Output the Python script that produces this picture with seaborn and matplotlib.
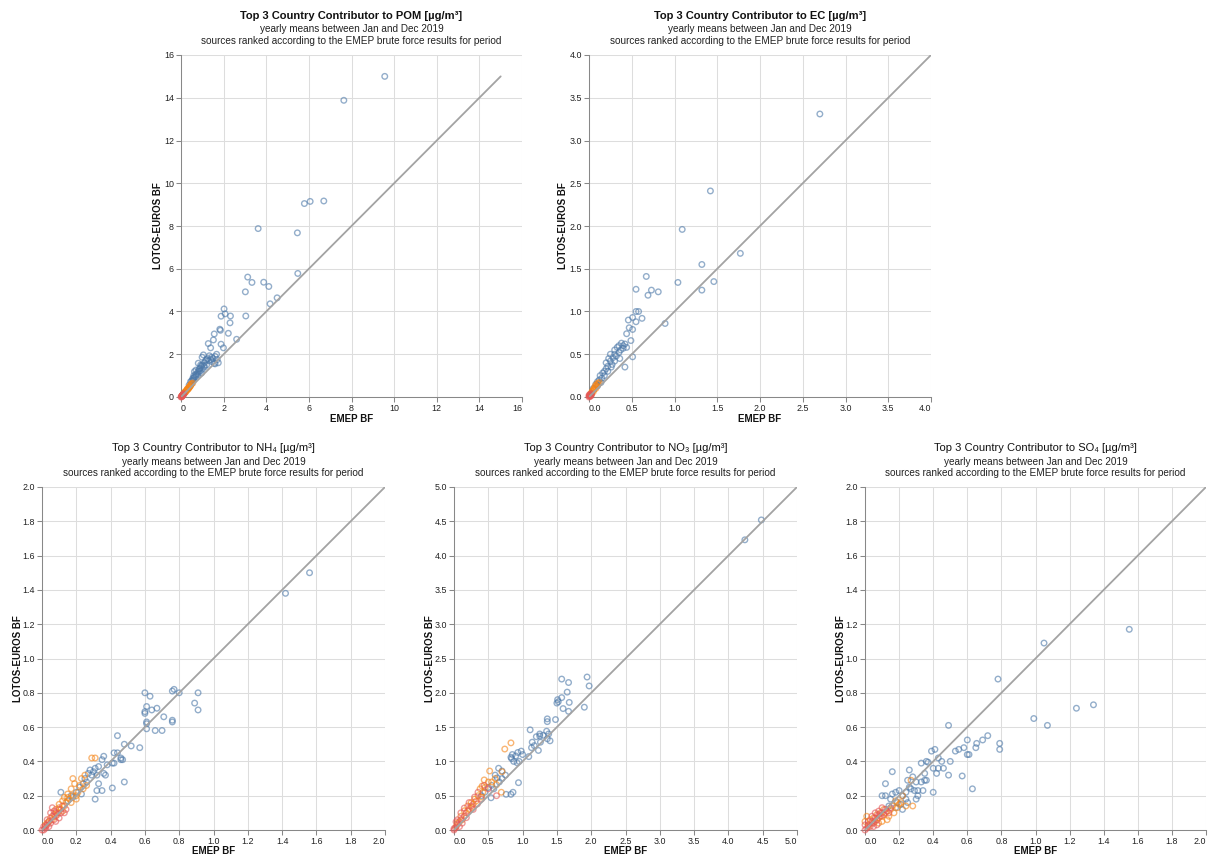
import numpy as np
import pandas as pd
import matplotlib
matplotlib.use("Agg")
import matplotlib.pyplot as plt
import seaborn as sns

# ---------------- data ----------------
SUB1 = "yearly means between Jan and Dec 2019"
SUB2 = "sources ranked according to the EMEP brute force results for period"
X_LABEL = "EMEP BF"
Y_LABEL = "LOTOS-EUROS BF"
RANKS = ["1", "2", "3"]
COLORS = ["#4c78a8", "#f58518", "#e45756"]

# POM
pom_title = "Top 3 Country Contributor to POM [µg/m³]"
pom_ticks = [0, 2, 4, 6, 8, 10, 12, 14, 16]
pom_line = [0, 15]
pom_b_x = [9.56, 7.64, 5.79, 6.06, 6.70, 3.62, 5.46, 5.48, 3.13, 3.33, 3.02, 3.88, 4.12, 4.51, 4.18,
           2.02, 1.88, 2.07, 2.32, 3.04, 2.30, 1.82, 1.85, 1.56, 2.22, 2.61, 1.52, 1.28, 1.88, 1.99,
           1.39, 1.05, 1.67, 0.99, 1.33, 1.44, 1.56, 0.81, 0.92, 1.08, 0.70, 0.63, 0.85, 0.96, 0.55,
           0.60, 0.45, 0.38, 0.50, 0.55, 0.60, 0.65, 0.70, 0.75, 0.80, 0.85, 0.90, 0.95, 1.00, 1.10,
           1.15, 1.20, 1.25, 1.30, 1.40, 1.50, 1.60, 1.70, 1.75, 1.60, 1.45, 1.20, 1.00, 0.80, 0.70,
           1.10, 0.90, 0.60]
pom_b_y = [15.0, 13.88, 9.05, 9.15, 9.17, 7.88, 7.68, 5.78, 5.61, 5.36, 4.92, 5.37, 5.17, 4.64, 4.36,
           4.12, 3.78, 3.89, 3.79, 3.79, 3.47, 3.17, 3.12, 2.95, 2.98, 2.70, 2.67, 2.50, 2.47, 2.30,
           2.30, 1.97, 2.00, 1.86, 1.93, 1.86, 1.58, 1.58, 1.50, 1.45, 1.26, 1.19, 1.20, 1.12, 0.87,
           1.00, 0.72, 0.56, 0.75, 0.80, 0.90, 0.95, 1.05, 1.10, 1.20, 1.30, 1.35, 1.45, 1.50, 1.60,
           1.70, 1.75, 1.80, 1.70, 1.75, 1.80, 1.90, 1.75, 1.60, 1.55, 1.65, 1.50, 1.30, 1.05, 0.95,
           1.40, 1.20, 0.80]
pom_o_x = [0.05, 0.08, 0.10, 0.12, 0.15, 0.18, 0.20, 0.22, 0.25, 0.28, 0.30, 0.32, 0.35, 0.38, 0.40,
           0.42, 0.45, 0.48, 0.50, 0.55, 0.12, 0.20, 0.30, 0.36, 0.44]
pom_o_y = [0.06, 0.10, 0.12, 0.15, 0.17, 0.22, 0.25, 0.24, 0.30, 0.33, 0.36, 0.35, 0.42, 0.45, 0.50,
           0.48, 0.55, 0.60, 0.62, 0.65, 0.16, 0.22, 0.38, 0.40, 0.52]
pom_r_x = [0.00, 0.02, 0.04, 0.05, 0.07, 0.08, 0.10, 0.12, 0.14, 0.03, 0.06, 0.09]
pom_r_y = [0.00, 0.02, 0.05, 0.04, 0.08, 0.07, 0.10, 0.13, 0.15, 0.01, 0.06, 0.11]

# EC
ec_title = "Top 3 Country Contributor to EC [µg/m³]"
ec_ticks = [0, 0.5, 1.0, 1.5, 2.0, 2.5, 3.0, 3.5, 4.0]
ec_line = [0, 4.0]
ec_b_x = [2.70, 1.42, 1.09, 1.77, 1.32, 1.04, 1.46, 1.32, 0.67, 0.55, 0.73, 0.81, 0.69, 0.89, 0.55,
          0.58, 0.51, 0.62, 0.46, 0.55, 0.47, 0.51, 0.44, 0.49, 0.51, 0.42,
          0.05, 0.08, 0.10, 0.12, 0.13, 0.15, 0.16, 0.18, 0.20, 0.20, 0.22, 0.23, 0.25, 0.25, 0.27,
          0.28, 0.30, 0.30, 0.32, 0.33, 0.35, 0.35, 0.37, 0.38, 0.40, 0.40, 0.42, 0.44, 0.22, 0.18,
          0.26, 0.30, 0.10, 0.14, 0.36]
ec_b_y = [3.31, 2.41, 1.96, 1.68, 1.55, 1.34, 1.35, 1.25, 1.41, 1.26, 1.25, 1.23, 1.19, 0.86, 1.00,
          1.00, 0.93, 0.92, 0.90, 0.88, 0.81, 0.79, 0.74, 0.66, 0.47, 0.35,
          0.10, 0.15, 0.18, 0.20, 0.25, 0.22, 0.28, 0.30, 0.33, 0.40, 0.36, 0.45, 0.42, 0.50, 0.38,
          0.46, 0.50, 0.55, 0.48, 0.58, 0.52, 0.60, 0.55, 0.63, 0.60, 0.57, 0.62, 0.58, 0.30, 0.25,
          0.35, 0.42, 0.13, 0.17, 0.45]
ec_o_x = [0.01, 0.02, 0.03, 0.04, 0.05, 0.06, 0.07, 0.08, 0.09, 0.10, 0.05, 0.03, 0.06, 0.08, 0.11, 0.12]
ec_o_y = [0.02, 0.04, 0.05, 0.07, 0.08, 0.10, 0.12, 0.14, 0.13, 0.16, 0.06, 0.03, 0.09, 0.10, 0.15, 0.17]
ec_r_x = [0.00, 0.005, 0.01, 0.015, 0.02, 0.01, 0.025, 0.03, 0.02, 0.00]
ec_r_y = [0.00, 0.01, 0.01, 0.02, 0.02, 0.03, 0.03, 0.04, 0.01, 0.02]

# NH4
nh4_title = "Top 3 Country Contributor to NH₄ [µg/m³]"
nh4_ticks = [0, 0.2, 0.4, 0.6, 0.8, 1.0, 1.2, 1.4, 1.6, 1.8, 2.0]
nh4_line = [0, 2.0]
nh4_b_x = [1.42, 1.56, 0.60, 0.63, 0.77, 0.76, 0.80, 0.91, 0.89, 0.91, 0.61, 0.60, 0.60, 0.64, 0.67,
           0.71, 0.61, 0.61, 0.76, 0.76, 0.61, 0.66, 0.70, 0.57, 0.52, 0.48, 0.44, 0.42, 0.44, 0.46,
           0.46, 0.47, 0.41, 0.42, 0.36, 0.35, 0.37, 0.36, 0.32, 0.48, 0.41, 0.35, 0.32, 0.33, 0.31,
           0.30, 0.29, 0.27, 0.11, 0.25, 0.28, 0.31, 0.22, 0.20, 0.18, 0.15, 0.23, 0.26, 0.33, 0.38,
           0.24, 0.17]
nh4_b_y = [1.38, 1.50, 0.80, 0.78, 0.82, 0.81, 0.80, 0.80, 0.74, 0.70, 0.72, 0.69, 0.68, 0.70, 0.71,
           0.66, 0.63, 0.62, 0.64, 0.63, 0.59, 0.58, 0.58, 0.48, 0.49, 0.50, 0.55, 0.45, 0.45, 0.42,
           0.41, 0.41, 0.39, 0.39, 0.43, 0.41, 0.32, 0.33, 0.32, 0.28, 0.245, 0.23, 0.23, 0.27, 0.18,
           0.34, 0.32, 0.33, 0.22, 0.30, 0.35, 0.36, 0.25, 0.22, 0.19, 0.17, 0.21, 0.28, 0.37, 0.38,
           0.27, 0.20]
nh4_o_x = [0.29, 0.31, 0.18, 0.19, 0.23, 0.17, 0.15, 0.13, 0.12, 0.10, 0.08, 0.07, 0.05, 0.04, 0.03,
           0.02, 0.14, 0.16, 0.20, 0.21, 0.11, 0.09, 0.06, 0.13, 0.18, 0.22, 0.25, 0.10, 0.15, 0.12,
           0.17, 0.20, 0.08, 0.24, 0.26]
nh4_o_y = [0.42, 0.42, 0.30, 0.27, 0.30, 0.24, 0.21, 0.19, 0.17, 0.15, 0.12, 0.09, 0.07, 0.05, 0.04,
           0.03, 0.16, 0.18, 0.20, 0.22, 0.12, 0.10, 0.06, 0.14, 0.20, 0.26, 0.32, 0.13, 0.19, 0.11,
           0.16, 0.18, 0.08, 0.24, 0.26]
nh4_r_x = [0.00, 0.01, 0.02, 0.03, 0.04, 0.05, 0.06, 0.07, 0.08, 0.09, 0.10, 0.11, 0.12, 0.14, 0.05,
           0.06, 0.03, 0.02, 0.04, 0.08, 0.10, 0.13, 0.07, 0.01]
nh4_r_y = [0.00, 0.02, 0.02, 0.03, 0.05, 0.04, 0.08, 0.06, 0.10, 0.09, 0.12, 0.10, 0.14, 0.12, 0.10,
           0.13, 0.06, 0.01, 0.02, 0.05, 0.07, 0.10, 0.11, 0.00]

# NO3
no3_title = "Top 3 Country Contributor to NO₃ [µg/m³]"
no3_ticks = [0, 0.5, 1.0, 1.5, 2.0, 2.5, 3.0, 3.5, 4.0, 4.5, 5.0]
no3_line = [0, 5.0]
no3_b_x = [4.24, 4.48, 1.57, 1.67, 1.94, 1.97, 1.65, 1.57, 1.51, 1.52, 1.50, 1.59, 1.67, 1.68, 1.90,
           1.36, 1.36, 1.48, 1.11, 1.25, 1.30, 1.35, 1.38, 1.36, 1.40, 1.25, 1.20, 1.14, 1.26, 1.23,
           1.13, 1.17, 1.09, 0.85, 0.83, 0.90, 0.93, 0.95, 0.87, 0.92, 0.84, 0.94, 0.76, 0.83, 0.86,
           0.54, 0.65, 0.70, 0.60, 0.63, 0.50, 0.55, 0.45, 0.70, 0.75, 1.00, 0.98, 0.40, 0.58, 0.66]
no3_b_y = [4.23, 4.52, 2.20, 2.15, 2.23, 2.10, 2.01, 1.93, 1.90, 1.87, 1.85, 1.77, 1.73, 1.86, 1.79,
           1.62, 1.58, 1.61, 1.46, 1.40, 1.38, 1.44, 1.40, 1.33, 1.30, 1.37, 1.36, 1.28, 1.28, 1.16,
           1.20, 1.23, 1.07, 1.10, 1.06, 1.08, 1.13, 1.00, 1.00, 0.98, 1.04, 0.69, 0.52, 0.52, 0.55,
           0.47, 0.90, 0.86, 0.80, 0.76, 0.62, 0.65, 0.55, 0.75, 0.80, 1.10, 1.15, 0.50, 0.60, 0.70]
no3_o_x = [0.83, 0.74, 0.52, 0.44, 0.41, 0.69, 0.50, 0.35, 0.30, 0.25, 0.20, 0.15, 0.10, 0.05, 0.38,
           0.45, 0.28, 0.22, 0.18, 0.12, 0.40, 0.32, 0.60, 0.55, 0.08, 0.03, 0.26, 0.42, 0.70, 0.62]
no3_o_y = [1.27, 1.18, 0.86, 0.73, 0.64, 0.55, 0.70, 0.50, 0.45, 0.40, 0.35, 0.28, 0.20, 0.10, 0.60,
           0.62, 0.38, 0.30, 0.25, 0.15, 0.48, 0.42, 0.75, 0.70, 0.12, 0.05, 0.33, 0.55, 0.85, 0.66]
no3_r_x = [0.62, 0.44, 0.35, 0.30, 0.25, 0.20, 0.15, 0.10, 0.05, 0.02, 0.00, 0.08, 0.12, 0.18, 0.28,
           0.40, 0.05, 0.10, 0.15, 0.22, 0.03, 0.00, 0.34, 0.50]
no3_r_y = [0.50, 0.65, 0.55, 0.48, 0.35, 0.28, 0.20, 0.15, 0.08, 0.03, 0.00, 0.05, 0.10, 0.18, 0.30,
           0.45, 0.15, 0.25, 0.32, 0.40, 0.12, 0.02, 0.38, 0.60]

# SO4
so4_title = "Top 3 Country Contributor to SO₄ [µg/m³]"
so4_ticks = [0, 0.2, 0.4, 0.6, 0.8, 1.0, 1.2, 1.4, 1.6, 1.8, 2.0]
so4_line = [0, 2.0]
so4_b_x = [1.05, 1.55, 0.78, 0.99, 1.07, 1.24, 1.34, 0.49, 0.72, 0.69, 0.655, 0.60, 0.79, 0.79, 0.65,
           0.60, 0.61, 0.53, 0.55, 0.58, 0.39, 0.41, 0.43, 0.50, 0.37, 0.36, 0.33, 0.40, 0.43, 0.46,
           0.35, 0.49, 0.57, 0.63, 0.40, 0.26, 0.16, 0.12, 0.30, 0.31, 0.29, 0.27, 0.22, 0.20, 0.18,
           0.16, 0.15, 0.19, 0.25, 0.24, 0.21, 0.10, 0.12, 0.22, 0.30, 0.35, 0.42, 0.26, 0.24, 0.14,
           0.18, 0.28, 0.45, 0.33, 0.36, 0.31, 0.34, 0.25]
so4_b_y = [1.09, 1.17, 0.88, 0.65, 0.61, 0.71, 0.73, 0.61, 0.55, 0.525, 0.505, 0.525, 0.505, 0.47, 0.48,
           0.44, 0.44, 0.46, 0.47, 0.48, 0.46, 0.47, 0.42, 0.40, 0.395, 0.40, 0.39, 0.36, 0.36, 0.36,
           0.33, 0.32, 0.315, 0.24, 0.22, 0.35, 0.34, 0.27, 0.18, 0.20, 0.23, 0.24, 0.20, 0.23, 0.22,
           0.21, 0.18, 0.16, 0.16, 0.18, 0.15, 0.20, 0.20, 0.12, 0.28, 0.29, 0.33, 0.25, 0.22, 0.14,
           0.13, 0.31, 0.40, 0.28, 0.29, 0.23, 0.23, 0.29]
so4_o_x = [0.27, 0.28, 0.21, 0.20, 0.19, 0.15, 0.12, 0.10, 0.08, 0.06, 0.04, 0.02, 0.17, 0.14, 0.11,
           0.09, 0.07, 0.05, 0.13, 0.16, 0.18, 0.22, 0.03, 0.10, 0.24, 0.08, 0.00, 0.01]
so4_o_y = [0.29, 0.14, 0.16, 0.15, 0.13, 0.12, 0.10, 0.08, 0.07, 0.05, 0.04, 0.02, 0.10, 0.08, 0.12,
           0.10, 0.09, 0.07, 0.06, 0.14, 0.17, 0.20, 0.06, 0.05, 0.14, 0.04, 0.05, 0.08]
so4_r_x = [0.00, 0.01, 0.02, 0.03, 0.04, 0.05, 0.06, 0.07, 0.08, 0.09, 0.10, 0.11, 0.12, 0.13, 0.14,
           0.02, 0.04, 0.06, 0.08, 0.10, 0.05, 0.00, 0.15, 0.07]
so4_r_y = [0.00, 0.01, 0.03, 0.02, 0.05, 0.04, 0.07, 0.06, 0.09, 0.08, 0.10, 0.09, 0.12, 0.11, 0.10,
           0.05, 0.08, 0.10, 0.11, 0.13, 0.02, 0.03, 0.13, 0.03]

# ---------------- styling ----------------
sns.set_theme(style="white")
plt.rcParams['font.family'] = ['Liberation Sans', 'DejaVu Sans']

W, H = 1208, 856
fig = plt.figure(figsize=(W / 100, H / 100), dpi=100)
fig.patch.set_facecolor("white")


def make_df(bx, by, ox, oy, rx, ry):
    return pd.DataFrame({
        "emep": list(bx) + list(ox) + list(rx),
        "lotos": list(by) + list(oy) + list(ry),
        "rank": [RANKS[0]] * len(bx) + [RANKS[1]] * len(ox) + [RANKS[2]] * len(rx),
    })


def fmt(v, decimals):
    return f"{v:.{decimals}f}" if decimals else f"{int(round(v))}"


def panel(box, df, ticks, line, title, bold, decimals, ylab_off, xlab_off):
    left, top, right, bottom = box
    ax = fig.add_axes([left / W, 1 - bottom / H, (right - left) / W, (bottom - top) / H])
    ax.set_facecolor("white")
    sns.scatterplot(data=df, x="emep", y="lotos", hue="rank", hue_order=RANKS,
                    palette=COLORS, s=16, linewidth=1.0, alpha=0.6, legend=False,
                    ax=ax, clip_on=False, zorder=3)
    coll = ax.collections[-1]
    fcs = coll.get_facecolors()
    coll.set_edgecolors(fcs)
    coll.set_facecolors("none")
    sns.lineplot(x=line, y=line, ax=ax, color="#a3a3a3", linewidth=1.3, zorder=4)
    ax.set_xlim(ticks[0], ticks[-1])
    ax.set_ylim(ticks[0], ticks[-1])
    ax.set_xticks(ticks)
    ax.set_yticks(ticks)
    ax.set_xticklabels([fmt(t, decimals) for t in ticks])
    ax.set_yticklabels([fmt(t, decimals) for t in ticks])
    xl = ax.get_xticklabels()
    xl[0].set_ha("left")
    xl[-1].set_ha("right")
    ax.grid(True, color="#dddddd", linewidth=0.75)
    ax.set_axisbelow(True)
    for s in ["top", "right"]:
        ax.spines[s].set_visible(False)
    for s in ["left", "bottom"]:
        ax.spines[s].set_color("#888888")
        ax.spines[s].set_linewidth(0.75)
    ax.tick_params(axis="both", which="both", bottom=True, left=True, direction="out",
                   length=3.6, width=0.75, color="#888888", labelsize=6.4, pad=1.5,
                   labelcolor="#222222")
    hpx = bottom - top
    wpx = right - left
    ax.set_xlabel(X_LABEL, fontsize=7.0, fontweight="bold", color="#111111", va="center")
    ax.set_ylabel(Y_LABEL, fontsize=7.0, fontweight="bold", color="#111111", va="center")
    ax.xaxis.set_label_coords(0.5, -xlab_off / hpx)
    ax.yaxis.set_label_coords(-ylab_off / wpx, 0.5)
    cx = (left + right) / 2 / W
    fig.text(cx, 1 - (top - 39) / H, title, ha="center", va="center", fontsize=8.0,
             fontweight="bold" if bold else "normal", color="#111111")
    fig.text(cx, 1 - (top - 25.5) / H, SUB1, ha="center", va="center", fontsize=7.2, color="#222222")
    fig.text(cx, 1 - (top - 14) / H, SUB2, ha="center", va="center", fontsize=7.2, color="#222222")
    return ax


panel((181, 55, 522, 397), make_df(pom_b_x, pom_b_y, pom_o_x, pom_o_y, pom_r_x, pom_r_y),
      pom_ticks, pom_line, pom_title, True, 0, 23, 22)
panel((589, 55, 931, 397), make_df(ec_b_x, ec_b_y, ec_o_x, ec_o_y, ec_r_x, ec_r_y),
      ec_ticks, ec_line, ec_title, True, 1, 26, 22)
panel((42, 487, 385, 830), make_df(nh4_b_x, nh4_b_y, nh4_o_x, nh4_o_y, nh4_r_x, nh4_r_y),
      nh4_ticks, nh4_line, nh4_title, False, 1, 24, 21)
panel((454, 487, 797, 830), make_df(no3_b_x, no3_b_y, no3_o_x, no3_o_y, no3_r_x, no3_r_y),
      no3_ticks, no3_line, no3_title, False, 1, 24, 21)
panel((865, 487, 1206, 830), make_df(so4_b_x, so4_b_y, so4_o_x, so4_o_y, so4_r_x, so4_r_y),
      so4_ticks, so4_line, so4_title, False, 1, 24, 21)

fig.savefig("out.png", dpi=100, facecolor="white")
